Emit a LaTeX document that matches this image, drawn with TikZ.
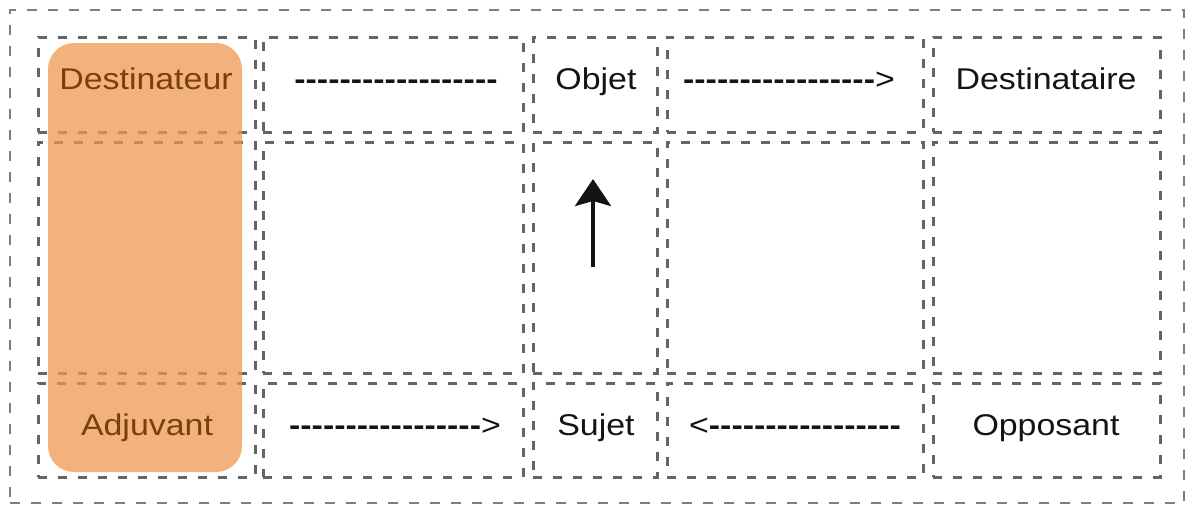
\documentclass[tikz,border=0pt]{standalone}
\usepackage{fontspec}
\setmainfont{Liberation Sans}[Ligatures=TeXOff]
\usetikzlibrary{arrows.meta}
\definecolor{gridgray}{HTML}{656565}
\definecolor{outergray}{HTML}{7E7E7E}
\definecolor{orangefill}{HTML}{EE9850}
\definecolor{orangetext}{HTML}{7A3E12}
\definecolor{txt}{HTML}{141414}
\newcommand{\wtxt}[1]{\scalebox{1.13}[1]{#1}}
\newcommand{\hyph}[1]{\textbf{#1}}
\begin{document}
\begin{tikzpicture}[x=1pt,y=-1pt,
  cellbox/.style={draw=gridgray, line width=3pt, dash pattern=on 9pt off 11pt, inner sep=0pt, outer sep=0pt},
  outerbox/.style={draw=outergray, line width=2.4pt, dash pattern=on 10pt off 11pt, inner sep=0pt, outer sep=0pt},
  hlbox/.style={fill=orangefill, fill opacity=0.75, rounded corners=26pt, inner sep=0pt},
  lbl/.style={font=\fontsize{30}{36}\selectfont, text=txt, anchor=base, inner sep=0pt},
  hllbl/.style={lbl, text=orangetext},
  arr/.style={line width=4pt, draw=txt, -{Stealth[length=27pt,width=36pt,inset=5pt]}}
]
\useasboundingbox (0,0) rectangle (1186,506);
% outer frame
\node[outerbox, minimum width=1174pt, minimum height=493pt] (frame) at (597,256.5) {};
% cells
\node[cellbox, minimum width=217pt, minimum height=95pt]  (c11) at (146.5,84.5) {};
\node[cellbox, minimum width=260pt, minimum height=95pt]  (c12) at (393,84.5) {};
\node[cellbox, minimum width=124pt, minimum height=95pt]  (c13) at (595,84.5) {};
\node[cellbox, minimum width=256pt, minimum height=95pt]  (c14) at (795,84.5) {};
\node[cellbox, minimum width=227pt, minimum height=95pt]  (c15) at (1046.5,84.5) {};
\node[cellbox, minimum width=217pt, minimum height=231pt] (c21) at (146.5,257.5) {};
\node[cellbox, minimum width=260pt, minimum height=231pt] (c22) at (393,257.5) {};
\node[cellbox, minimum width=124pt, minimum height=231pt] (c23) at (595,257.5) {};
\node[cellbox, minimum width=256pt, minimum height=231pt] (c24) at (795,257.5) {};
\node[cellbox, minimum width=227pt, minimum height=231pt] (c25) at (1046.5,257.5) {};
\node[cellbox, minimum width=217pt, minimum height=94pt]  (c31) at (146.5,430) {};
\node[cellbox, minimum width=260pt, minimum height=94pt]  (c32) at (393,430) {};
\node[cellbox, minimum width=124pt, minimum height=94pt]  (c33) at (595,430) {};
\node[cellbox, minimum width=256pt, minimum height=94pt]  (c34) at (795,430) {};
\node[cellbox, minimum width=227pt, minimum height=94pt]  (c35) at (1046.5,430) {};
% highlight
\node[hlbox, minimum width=194pt, minimum height=429pt] (hl) at (145,257.5) {};
% texts
\node[hllbl] (t11) at (146,89) {\wtxt{Destinateur}};
\node[lbl] (t12) at (396,89) {\wtxt{\hyph{------------------}}};
\node[lbl] (t13) at (596,89) {\wtxt{Objet}};
\node[lbl] (t14) at (789,89) {\wtxt{\hyph{-----------------}>}};
\node[lbl] (t15) at (1046,89) {\wtxt{Destinataire}};
\node[hllbl] (t31) at (147,435) {\wtxt{Adjuvant}};
\node[lbl] (t32) at (395,435) {\wtxt{\hyph{-----------------}>}};
\node[lbl] (t33) at (596,435) {\wtxt{Sujet}};
\node[lbl] (t34) at (795,435) {\wtxt{<\hyph{-----------------}}};
\node[lbl] (t35) at (1046,435) {\wtxt{Opposant}};
% arrow
\coordinate (aS) at (593,267);
\coordinate (aE) at (593,179);
\draw[arr] (aS) -- (aE);
\end{tikzpicture}
\end{document}
